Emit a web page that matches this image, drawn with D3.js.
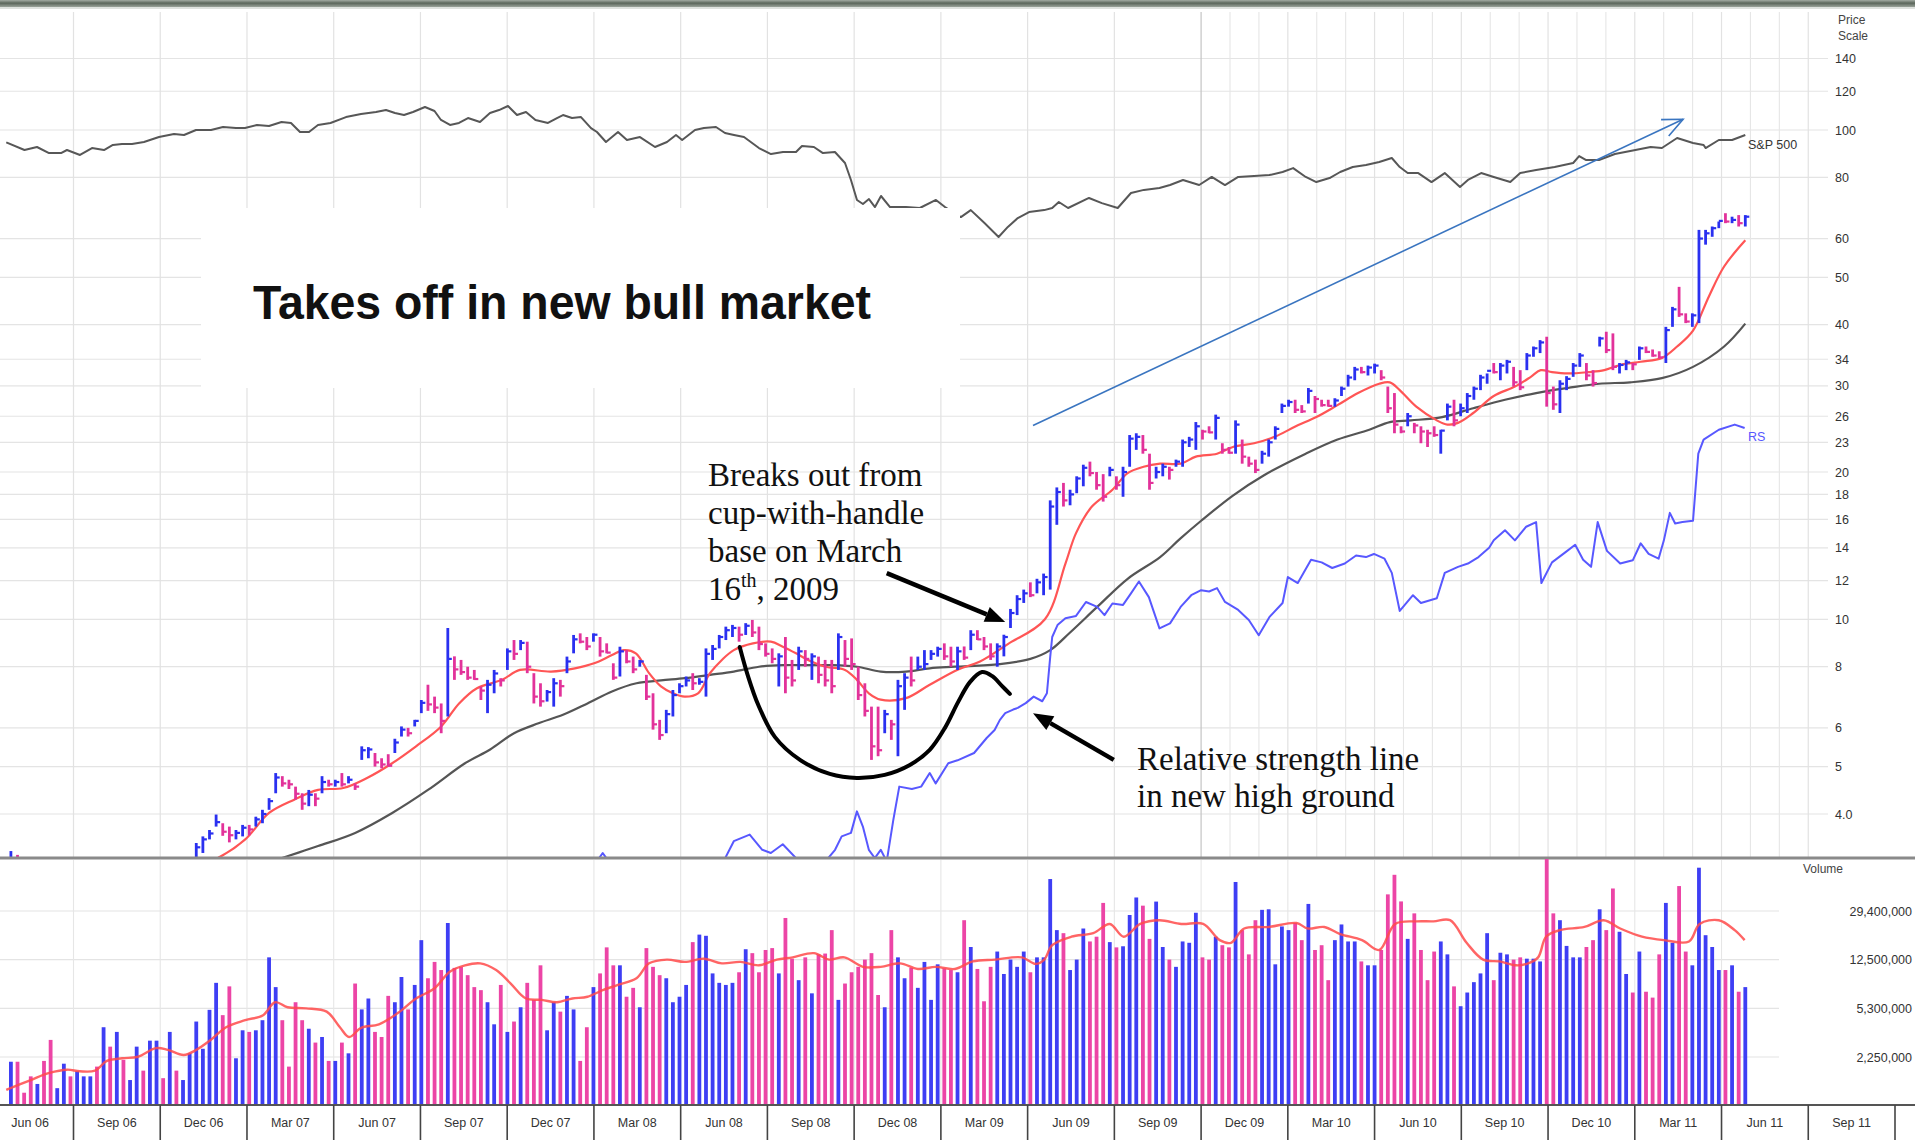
<!DOCTYPE html>
<html><head><meta charset="utf-8">
<script src="https://cdn.jsdelivr.net/npm/d3@7"></script>
<style>body{margin:0;background:#fff} svg{display:block}</style>
</head><body>
<svg id="chart" width="1915" height="1140"></svg>
<script>
// ---------------- DATA ----------------
const quarterLabels = ["Jun 06","Sep 06","Dec 06","Mar 07","Jun 07","Sep 07","Dec 07","Mar 08","Jun 08","Sep 08","Dec 08","Mar 09","Jun 09","Sep 09","Dec 09","Mar 10","Jun 10","Sep 10","Dec 10","Mar 11","Jun 11","Sep 11"];
const priceTicks = [140,120,100,80,60,50,40,34,30,26,23,20,18,16,14,12,10,8,6,5,4];
const priceTickLabels = ["140","120","100","80","60","50","40","34","30","26","23","20","18","16","14","12","10","8","6","5","4.0"];
const volTicks = [29400000,12500000,5300000,2250000];
const volTickLabels = ["29,400,000","12,500,000","5,300,000","2,250,000"];

// weekly bars (week 0 = mid-May 2006)
const priceHigh = [
3.36,3.3,3.1,3.0,2.95,3.0,2.95,2.85,2.9,2.95,
2.9,2.95,3.0,3.05,3.1,3.1,3.15,3.15,3.1,3.2,
3.2,3.2,3.22,3.2,3.22,3.2,3.2,3.25,3.49,3.6,
3.71,3.99,3.83,3.77,3.71,3.8,3.8,3.95,4.08,4.31,
4.85,4.78,4.7,4.55,4.41,4.48,4.41,4.78,4.7,4.7,
4.85,4.78,4.62,5.5,5.48,5.33,5.2,5.3,5.7,6.04,
6.0,6.23,6.84,7.35,6.95,6.73,9.6,8.4,8.26,8.0,
7.88,7.29,7.52,7.88,7.58,8.72,9.07,9.07,9.0,7.76,
7.4,7.17,7.58,7.52,8.39,9.29,9.36,9.2,9.36,9.2,
8.93,8.13,8.79,8.65,8.39,8.26,7.7,7.06,6.23,6.53,
7.17,7.4,7.64,7.76,7.58,8.72,8.86,9.29,9.66,9.74,
9.66,9.82,9.97,9.66,8.93,8.72,8.52,9.2,8.26,8.79,
8.65,8.52,8.39,8.26,8.26,9.36,9.07,9.14,8.0,7.4,
6.63,6.63,6.53,6.23,7.52,7.76,8.39,8.39,8.65,8.65,
8.79,8.93,8.79,8.79,8.8,9.5,9.5,9.2,8.93,8.93,
9.3,10.5,11.2,11.5,11.9,12.1,12.4,17.5,18.6,19.0,
18.4,19.6,20.7,21.0,20.0,19.8,20.5,19.6,20.5,23.8,
24.0,23.8,21.8,20.5,20.8,20.5,21.2,23.3,23.6,25.3,
24.4,24.8,26.2,22.9,22.5,25.5,23.3,21.5,21.2,22.1,
23.3,24.8,27.6,28.1,28.1,27.4,29.7,28.6,28.1,28.1,
28.3,29.9,31.6,32.8,32.8,33.0,33.3,32.3,29.9,29.0,
24.8,26.4,25.2,24.8,24.4,24.8,24.4,27.6,28.1,27.6,
29.0,29.9,31.6,31.8,33.4,33.4,33.9,32.8,32.3,35.0,
36.1,37.2,37.8,29.9,30.8,31.4,33.4,35.0,33.4,32.3,
37.8,38.7,38.4,33.4,33.9,33.4,36.1,36.1,35.6,35.3,
39.6,43.5,47.8,42.2,42.2,62.5,62.5,63.5,65.0,67.6,
66.5,67.0,67.0];
const priceLow = [
3.05,3.0,2.85,2.75,2.7,2.8,2.65,2.6,2.7,2.75,
2.7,2.8,2.8,2.85,2.85,2.9,2.9,2.95,2.95,3.0,
3.0,3.0,3.05,3.05,3.05,3.0,3.0,3.05,3.2,3.33,
3.55,3.77,3.61,3.5,3.55,3.6,3.62,3.77,3.83,4.08,
4.41,4.55,4.5,4.28,4.08,4.15,4.15,4.41,4.55,4.55,
4.55,4.62,4.48,5.16,5.2,5.0,4.96,5.0,5.33,5.76,
5.76,6.04,6.43,6.5,6.43,5.85,6.33,7.52,7.7,7.52,
7.52,6.84,6.43,7.06,7.29,7.88,8.26,8.65,7.76,6.73,
6.63,6.79,6.63,6.95,7.76,8.52,8.93,8.65,9.0,8.39,
8.52,7.52,7.64,8.13,7.76,8.0,6.84,5.95,5.67,5.85,
6.33,7.06,7.29,7.17,7.35,6.95,8.26,8.72,9.07,9.2,
9.0,9.29,9.2,8.65,8.39,8.13,7.29,7.06,7.29,7.88,
8.0,7.52,7.4,7.29,7.06,7.88,8.0,7.88,6.84,6.33,
5.16,5.25,5.85,5.67,5.25,6.53,7.29,7.88,7.88,8.26,
8.39,8.26,8.0,7.88,8.26,8.65,9.07,8.65,8.26,8.0,
8.4,9.6,10.2,10.8,11.1,11.3,11.2,11.5,15.6,17.0,
17.1,18.1,18.7,19.6,18.4,17.4,19.6,18.4,17.8,20.5,
22.2,21.8,18.4,19.4,19.6,19.3,20.5,20.5,22.5,22.2,
23.3,24.0,23.3,21.8,21.8,21.8,20.8,20.5,19.9,20.8,
21.5,23.3,26.4,27.2,26.4,26.4,27.6,26.4,27.2,27.2,
27.2,28.6,29.9,30.8,31.8,31.5,31.8,30.8,26.4,24.0,
24.0,24.8,24.0,22.9,22.5,23.6,21.8,25.5,24.8,26.0,
26.4,28.1,29.4,30.3,31.8,30.8,31.8,29.9,29.4,32.3,
34.4,35.0,27.2,26.8,26.4,29.4,31.3,32.8,30.8,29.9,
36.1,35.0,32.3,31.8,32.3,32.3,33.9,35.0,34.4,34.1,
33.4,39.6,41.5,40.3,39.6,40.3,58.3,60.5,63.0,64.5,
64.5,63.5,63.5];
const priceClose = [
3.2,3.05,2.9,2.8,2.9,2.85,2.7,2.75,2.85,2.8,
2.85,2.9,2.95,2.9,3.05,2.95,3.1,3.0,3.05,3.15,
3.05,3.15,3.2,3.1,3.15,3.05,3.1,3.2,3.42,3.55,
3.65,3.85,3.68,3.62,3.66,3.75,3.72,3.9,4.0,4.25,
4.75,4.62,4.6,4.4,4.2,4.38,4.3,4.65,4.6,4.65,
4.6,4.7,4.55,5.4,5.42,5.1,5.05,5.02,5.6,5.95,
5.85,6.2,6.75,6.7,6.6,6.2,8.3,7.9,7.8,7.6,
7.55,7.15,7.35,7.75,7.5,8.6,8.5,8.95,8.0,6.95,
6.8,7.1,7.4,7.3,8.2,9.1,9.0,8.8,9.3,8.6,
8.55,7.6,8.6,8.2,7.9,8.2,6.95,6.1,5.8,6.4,
7.0,7.3,7.5,7.4,7.45,8.5,8.7,9.2,9.5,9.6,
9.3,9.7,9.4,8.9,8.5,8.3,8.4,7.6,7.5,8.6,
8.3,8.4,7.7,7.5,7.3,9.2,8.3,8.1,7.0,6.5,
5.5,5.4,6.4,6.1,7.3,7.6,7.5,8.0,8.1,8.5,
8.7,8.4,8.2,8.6,8.35,9.3,9.1,8.8,8.4,8.8,
9.2,10.3,11.0,11.3,11.2,11.9,12.2,17.0,18.2,17.5,
18.0,19.4,20.4,19.9,18.8,17.8,20.2,18.8,20.0,23.4,
23.6,22.2,19.0,20.0,20.5,20.2,21.0,23.0,23.3,24.8,
24.2,24.1,25.8,22.2,21.9,25.0,21.5,20.8,20.2,21.8,
23.0,24.5,27.3,27.8,26.8,26.6,29.3,28.2,27.4,27.3,
28.0,29.6,31.2,32.4,32.0,32.7,33.0,31.2,27.0,25.0,
24.2,26.0,24.9,24.2,24.0,23.8,24.3,27.2,25.5,27.0,
28.6,29.6,31.2,32.2,32.0,33.0,33.6,30.5,29.8,34.6,
35.8,36.8,29.0,27.5,30.3,31.0,33.0,34.6,31.5,30.4,
37.5,35.5,32.8,33.1,33.5,33.2,35.8,35.2,34.6,34.3,
39.0,43.0,42.0,40.6,41.8,60.0,61.5,63.0,65.2,65.0,
65.5,64.5,66.5];
// weekly volume, millions of shares
const volumeM = [
2.07,2.07,1.2,1.6,1.4,2.1,3.04,1.3,2.0,1.6,
1.75,1.6,1.6,1.9,3.8,2.7,3.5,2.14,1.5,2.7,
1.77,3.0,3.0,1.55,3.5,1.77,1.5,2.4,4.2,2.6,
5.16,8.3,4.7,7.8,2.2,3.6,3.5,3.6,4.3,13.0,
7.7,4.3,1.9,5.9,4.3,3.7,2.9,3.2,2.1,2.1,
2.9,2.4,8.2,5.2,6.3,3.5,3.2,6.6,5.9,9.2,
5.2,8.0,17.6,9.0,12.0,10.4,23.8,10.8,11.0,9.5,
7.7,7.3,5.9,4.0,8.0,3.5,4.2,5.4,8.3,6.15,
11.3,3.6,5.9,5.0,6.6,5.2,2.1,3.8,7.7,9.8,
15.5,11.3,11.3,6.5,7.6,5.4,15.3,11.0,9.5,9.0,
5.9,6.5,8.0,17.0,19.4,19.0,9.8,8.3,8.0,8.3,
10.0,15.0,14.0,10.0,14.8,15.3,9.8,26.0,12.7,8.7,
13.0,6.9,13.7,13.9,21.0,6.15,8.2,10.0,11.0,12.5,
14.0,6.7,5.4,21.0,13.0,9.0,10.8,7.6,12.0,6.15,
11.5,10.7,10.4,10.0,25.0,15.6,10.6,6.0,11.0,14.4,
9.7,12.5,11.0,14.4,10.0,13.0,13.0,51.6,21.0,19.9,
10.4,12.5,21.6,17.2,18.7,33.9,17.0,15.5,15.8,27.4,
37.3,32.3,18.0,34.7,15.6,12.5,11.0,17.2,16.8,28.5,
13.0,12.5,18.7,16.1,15.5,49.0,21.0,13.7,25.0,30.0,
30.3,11.5,22.4,21.0,23.8,17.6,33.3,14.8,16.1,8.7,
17.6,23.2,17.2,17.2,12.1,11.3,11.3,14.8,39.4,55.6,
34.8,18.0,28.2,14.8,8.7,14.4,17.2,13.7,7.8,5.5,
7.0,8.4,9.8,19.9,8.7,14.1,13.7,12.5,13.0,12.7,
12.7,12.1,75.0,28.2,25.0,15.9,13.0,13.0,15.6,17.6,
30.3,21.0,43.7,20.4,9.7,7.0,14.4,7.1,6.4,13.7,
33.9,16.8,45.6,14.4,11.3,63.0,19.2,15.6,10.4,10.4,
11.3,7.1,7.7];

// [week, value] readings of the lines
const ma10 = [[0,2.95],[10,2.85],[20,3.0],[28,3.12],[31.6,3.27],[35.4,3.55],[39.0,4.02],[42.8,4.28],[46.4,4.48],[50.2,4.52],[53.8,4.74],[57.6,5.08],[61.2,5.5],[65.0,6.04],[67.7,6.73],[70.4,7.23],[74.2,7.52],[76.9,7.88],[81.6,7.82],[85.2,7.94],[88.1,8.13],[90.8,8.45],[92.6,8.65],[94.4,8.52],[96.4,7.76],[98.2,7.29],[100.0,7.06],[101.8,6.95],[103.8,7.06],[105.6,7.76],[107.4,8.26],[109.2,8.65],[112.1,8.93],[114.8,9.0],[116.6,8.79],[118.6,8.52],[120.4,8.26],[123.1,8.0],[126.0,7.88],[127.8,7.52],[129.6,7.06],[131.4,6.85],[135.2,6.9],[138.8,7.35],[143.1,7.9],[146.4,8.2],[150.6,8.9],[156.2,10.0],[159.3,13.0],[160.9,15.0],[163.3,17.0],[166.4,18.4],[168.7,19.9],[171.1,20.5],[173.6,20.8],[176.7,20.8],[179.0,21.5],[182.2,21.8],[184.6,22.5],[187.8,22.9],[190.9,23.6],[194.1,24.8],[197.2,25.9],[200.4,27.4],[203.5,29.0],[206.7,30.3],[208.3,30.5],[209.8,29.4],[212.3,27.2],[215.4,25.5],[217.0,25.0],[218.6,25.2],[220.9,26.4],[224.0,28.6],[227.2,29.9],[229.6,31.3],[231.1,32.3],[232.8,32.0],[235.2,31.8],[238.3,32.0],[240.7,32.3],[243.1,33.1],[246.2,33.6],[249.4,34.2],[251.7,36.1],[254.1,38.9],[256.5,45.7],[258.8,52.6],[262.0,59.5]];
const ma40 = [[0,2.7],[20,2.85],[35,3.05],[40.9,3.25],[46.4,3.44],[52.0,3.66],[57.6,4.02],[63.0,4.48],[68.6,5.08],[72.4,5.42],[76.0,5.85],[79.7,6.13],[83.4,6.38],[87.1,6.73],[90.8,7.12],[94.5,7.4],[98.2,7.5],[101.8,7.58],[105.6,7.7],[109.2,7.82],[113.0,8.0],[116.6,8.06],[120.4,8.06],[124.0,8.06],[127.8,8.0],[131.4,7.82],[135.2,7.82],[138.8,7.94],[142.6,8.0],[149.4,8.1],[154.0,8.3],[157.0,8.65],[160.0,9.4],[164.1,10.6],[168.7,12.1],[173.6,13.4],[176.6,14.6],[179.8,15.9],[184.6,17.9],[189.3,19.7],[195.6,21.8],[200.4,23.3],[205.2,24.4],[208.3,25.3],[211.5,25.5],[216.2,25.9],[220.9,27.0],[225.7,28.1],[230.4,29.0],[235.2,29.7],[239.9,30.3],[244.6,30.5],[249.4,31.1],[254.1,32.8],[258.8,36.1],[262.0,40.2]];
const sp500 = [[-0.7,1240],[2.05,1181],[3.94,1204],[5.76,1158],[7.57,1158],[8.47,1181],[10.44,1144],[12.25,1196],[14.06,1181],[15.41,1220],[16.78,1227],[18.29,1227],[20.1,1243],[22.37,1283],[24.64,1308],[26.15,1300],[27.96,1342],[30.23,1342],[32.04,1368],[34.0,1359],[35.36,1359],[37.17,1386],[38.99,1377],[40.88,1413],[42.31,1404],[43.67,1325],[45.03,1325],[46.39,1386],[48.28,1404],[50.62,1458],[52.89,1486],[55.15,1506],[56.66,1525],[58.02,1496],[59.38,1477],[60.74,1506],[62.55,1555],[63.99,1516],[64.97,1431],[66.33,1386],[67.69,1404],[69.05,1449],[70.86,1413],[72.37,1496],[73.73,1525],[75.09,1565],[76.45,1477],[77.81,1506],[79.24,1431],[81.13,1404],[82.49,1449],[83.4,1477],[84.76,1449],[86.12,1458],[87.63,1359],[88.53,1325],[89.89,1243],[91.71,1325],[93.06,1259],[95.03,1283],[97.3,1204],[99.11,1243],[100.47,1300],[101.4,1259],[103.34,1342],[104.69,1359],[106.51,1368],[107.87,1317],[109.23,1300],[110.74,1283],[113.0,1196],[114.82,1151],[116.63,1166],[118.6,1166],[119.5,1212],[121.3,1204],[122.67,1158],[124.48,1166],[126.0,1087],[126.9,975],[127.81,858],[128.71,836],[129.62,863],[130.53,820],[131.44,880],[132.8,820],[135.2,820],[137.3,815],[139.74,858],[141.1,820],[143.5,769],[145.0,804],[147.07,740],[149.2,677],[150.6,722],[152.1,764],[153.8,794],[156.1,804],[157.3,815],[158.3,847],[159.7,815],[162.86,869],[164.8,841],[167.2,815],[169.2,897],[171.15,915],[173.5,926],[175.1,944],[177.06,975],[179.5,944],[181.4,994],[183.4,944],[185.4,994],[187.8,1000],[190.1,1006],[192.1,1026],[193.7,1052],[195.6,994],[197.2,962],[199.2,987],[200.8,1026],[202.7,1059],[204.7,1073],[206.7,1094],[208.6,1122],[209.8,1059],[211.0,1019],[212.6,1019],[214.6,962],[216.6,1019],[218.9,932],[220.1,975],[222.1,1019],[224.0,994],[226.5,962],[228.0,1019],[230.4,1039],[233.2,1059],[236.0,1087],[236.9,1136],[237.9,1108],[239.9,1108],[242.3,1151],[245.4,1181],[247.7,1204],[249.4,1196],[251.7,1275],[254.1,1235],[255.7,1220],[256.0,1196],[258.0,1259],[260.0,1259],[262.0,1300]];
const rsLine = [[80,3.0],[83,3.0],[88.5,3.2],[89.4,3.33],[90.3,3.2],[95,3.0],[104.1,3.1],[107.9,3.25],[109.2,3.52],[111.6,3.63],[113.5,3.38],[114.8,3.33],[116.6,3.47],[118.6,3.25],[119.9,3.15],[122.2,3.1],[124.5,3.38],[125.5,3.6],[126.9,3.66],[127.8,4.05],[128.7,3.77],[129.6,3.38],[130.5,3.25],[131.4,3.38],[132.3,3.2],[133.3,3.89],[134.2,4.55],[136.1,4.5],[137.5,4.55],[138.8,4.85],[139.7,4.62],[141.6,5.08],[143.0,5.15],[145.5,5.33],[147.4,5.72],[148.6,5.94],[149.4,6.23],[150.2,6.43],[151.4,6.54],[152.1,6.59],[153.3,6.74],[154.5,6.95],[155.8,6.8],[156.5,7.06],[157.0,8.38],[157.3,9.2],[158.1,9.73],[159.3,10.05],[160.9,10.16],[162.4,10.85],[164.1,10.6],[165.2,10.2],[166.4,10.77],[168.0,10.7],[169.2,11.3],[170.4,11.95],[171.9,11.1],[173.5,9.58],[175.1,9.81],[176.7,10.6],[178.3,11.2],[179.8,11.47],[181.0,11.4],[182.2,11.58],[183.4,10.85],[185.4,10.45],[187.0,9.97],[188.5,9.28],[190.1,10.1],[192.1,10.8],[192.9,12.2],[194.4,11.86],[196.4,13.24],[198.0,13.07],[199.6,12.73],[201.5,13.0],[203.2,13.5],[204.7,13.4],[205.9,13.6],[207.5,13.3],[208.6,12.44],[209.8,10.4],[211.8,11.2],[213.0,10.8],[215.4,11.04],[216.6,12.44],[218.6,12.8],[220.1,13.0],[221.7,13.4],[223.3,14.0],[224.0,14.5],[225.7,15.2],[227.2,14.5],[228.9,15.46],[230.4,15.8],[231.2,11.86],[232.8,13.07],[234.8,13.7],[236.3,14.2],[237.5,13.24],[238.7,12.8],[239.7,15.8],[241.1,13.8],[243.1,13.0],[245.0,13.2],[246.2,14.3],[247.4,13.6],[248.9,13.3],[249.7,14.5],[250.6,16.5],[251.4,15.7],[252.5,15.8],[254.1,15.9],[254.9,21.8],[255.7,23.3],[258.0,24.4],[260.4,25.0],[261.9,24.6]];
const volMA = [[-0.7,1.26],[3.0,1.5],[5.8,1.7],[8.5,1.8],[10.4,1.75],[12.7,1.77],[14.5,2.1],[16.8,2.2],[19.2,2.26],[21.9,2.63],[23.7,2.55],[26.1,2.33],[28.0,2.55],[30.2,3.04],[32.5,3.8],[35.4,4.3],[38.1,4.7],[39.9,5.9],[41.8,5.4],[44.6,5.3],[47.7,5.0],[49.7,3.8],[51.1,3.2],[52.9,3.76],[55.6,4.0],[58.5,4.9],[61.2,6.3],[64.0,7.55],[66.3,10.1],[68.6,11.3],[70.9,11.7],[73.3,10.4],[75.5,8.2],[77.8,6.3],[80.2,6.15],[82.5,5.9],[84.8,6.3],[87.1,6.5],[89.4,7.3],[91.7,8.0],[94.5,9.0],[96.4,11.7],[99.1,12.5],[101.8,12.0],[104.7,12.7],[107.4,11.7],[110.2,12.0],[113.0,11.3],[115.7,12.5],[118.1,13.0],[121.3,14.0],[123.6,12.5],[125.9,13.0],[128.7,11.0],[131.4,11.0],[134.3,11.7],[137.0,10.6],[139.7,11.0],[142.6,10.6],[145.3,12.1],[148.7,12.5],[152.7,13.0],[154.8,11.6],[156.1,12.5],[157.3,16.1],[160.2,18.7],[163.5,19.9],[166.0,23.4],[168.1,18.7],[170.6,23.4],[173.5,25.0],[176.8,23.4],[180.1,23.4],[182.6,17.6],[184.3,16.8],[186.3,21.6],[190.0,22.2],[194.2,23.8],[195.9,21.6],[198.4,22.2],[200.8,19.6],[204.1,17.6],[206.7,14.8],[209.1,23.4],[212.4,24.5],[214.9,24.5],[217.4,25.0],[219.9,16.8],[222.4,12.5],[224.9,12.1],[227.4,11.3],[229.0,11.6],[230.7,13.0],[231.9,18.7],[234.0,21.0],[237.7,22.2],[240.6,25.0],[243.1,21.6],[246.4,18.7],[249.7,17.6],[253.5,17.2],[255.1,23.4],[258.0,25.0],[260.4,21.0],[261.9,17.6]];

// annotation anchors [week, price]
const cupPath = [[110.1,8.78],[111.3,7.69],[112.9,6.68],[115.4,5.75],[119.2,5.16],[123.7,4.83],[127.8,4.74],[132.0,4.81],[135.8,5.04],[138.8,5.41],[141.1,6.0],[143.1,6.78],[144.9,7.45],[146.7,7.8],[148.2,7.66],[149.7,7.31],[150.9,7.04]];
const breakoutArrow = [[132.3,12.43],[150.2,9.87]];
const rsArrow = [[166.6,5.16],[154.4,6.43]];
const trendArrow = [[154.4,24.9],[252.6,105.2]];

// ---------------- CHART ----------------
const svg = d3.select("#chart");
const W = 1915, H = 1140;
const VBOT = 1105;
const xw = d3.scaleLinear().domain([0, 262]).range([10.9, 1745.3]);
const xq = d3.scaleLinear().domain([0, 21]).range([73.5, 1895]);
const yP = d3.scaleLog().domain([10, 100]).range([619.3, 130]);
const yS = d3.scaleLog().domain([680, 1565]).range([236.3, 106]);
const yV = d3.scaleLog().domain([2250000, 29400000]).range([1057, 911]);

const BLUE = "#2a30f0", PINK = "#e2329a", VBLUE = "#3e3ef4", VPINK = "#ec45a6";
const sans = "'Liberation Sans', Arial, sans-serif";
const serif = "'Liberation Serif', 'Times New Roman', serif";

const defs = svg.append("defs");
defs.append("clipPath").attr("id","clipP").append("rect").attr("x",0).attr("y",9).attr("width",1830).attr("height",848);
defs.append("clipPath").attr("id","clipV").append("rect").attr("x",0).attr("y",859).attr("width",W).attr("height",VBOT-859);
const grad = defs.append("linearGradient").attr("id","topg").attr("x1",0).attr("y1",0).attr("x2",0).attr("y2",1);
grad.append("stop").attr("offset","0%").attr("stop-color","#a3aba3");
grad.append("stop").attr("offset","45%").attr("stop-color","#5b665b");
grad.append("stop").attr("offset","100%").attr("stop-color","#9aa29a");

svg.append("rect").attr("width",W).attr("height",H).attr("fill","#fff");
svg.append("rect").attr("x",0).attr("y",0).attr("width",W).attr("height",7).attr("fill","url(#topg)");
svg.append("line").attr("x1",0).attr("x2",W).attr("y1",8).attr("y2",8).attr("stroke","#d5d9d5").attr("stroke-width",1.5);

// grid - price panel
const gP = svg.append("g");
priceTicks.forEach(t => {
  gP.append("line").attr("x1",0).attr("x2",1828).attr("y1",yP(t)).attr("y2",yP(t))
    .attr("stroke","#e4e4e4").attr("stroke-width",1.2);
});
const monthly = d3.range(1, 22).filter(m => m % 3 !== 0).map(m => 13 + m/3);
d3.range(0, 21).forEach(q => {
  gP.append("line").attr("x1",xq(q)).attr("x2",xq(q)).attr("y1",12).attr("y2",857)
    .attr("stroke", q === 13 ? "#c4c4c4" : "#e2e2e2").attr("stroke-width",1.2);
});
monthly.forEach(q => {
  gP.append("line").attr("x1",xq(q)).attr("x2",xq(q)).attr("y1",12).attr("y2",857)
    .attr("stroke","#e6e6e6").attr("stroke-width",1.1);
});
// grid - volume panel
volTicks.forEach(t => {
  gP.append("line").attr("x1",0).attr("x2",1779).attr("y1",yV(t)).attr("y2",yV(t))
    .attr("stroke","#e4e4e4").attr("stroke-width",1.2);
});
d3.range(0, 20).forEach(q => {
  gP.append("line").attr("x1",xq(q)).attr("x2",xq(q)).attr("y1",860).attr("y2",VBOT)
    .attr("stroke","#e6e6e6").attr("stroke-width",1.1);
});

// S&P 500 line
const lineSP = d3.line().x(d => xw(d[0])).y(d => yS(d[1]));
svg.append("path").datum(sp500).attr("d", lineSP).attr("fill","none")
  .attr("stroke","#575757").attr("stroke-width",2).attr("stroke-linejoin","round");
svg.append("text").attr("x",1748).attr("y",yS(sp500[sp500.length-1][1])+14).text("S&P 500")
  .attr("font-family",sans).attr("font-size",12.5).attr("fill","#333");

// white title box (covers the chart behind it)
svg.append("rect").attr("x",201).attr("y",208).attr("width",759).attr("height",180).attr("fill","#fff");
svg.append("text").attr("x",253).attr("y",319).text("Takes off in new bull market")
  .attr("font-family",sans).attr("font-weight","bold").attr("font-size",48)
  .attr("textLength",618).attr("lengthAdjust","spacingAndGlyphs").attr("fill","#111");

// price panel content
const gPrice = svg.append("g").attr("clip-path","url(#clipP)");
const curve = d3.line().x(d => xw(d[0])).y(d => yP(d[1])).curve(d3.curveCatmullRom.alpha(0.5));
gPrice.append("path").datum(ma40).attr("d",curve).attr("fill","none").attr("stroke","#555").attr("stroke-width",2.2);
gPrice.append("path").datum(ma10).attr("d",curve).attr("fill","none").attr("stroke","#ff5555").attr("stroke-width",2.2);
const lineRS = d3.line().x(d => xw(d[0])).y(d => yP(d[1]));
gPrice.append("path").datum(rsLine).attr("d",lineRS).attr("fill","none").attr("stroke","#5858ff").attr("stroke-width",2).attr("stroke-linejoin","round");

const isUp = i => i === 0 || priceClose[i] >= priceClose[i-1];
priceHigh.forEach((h, i) => {
  const c = isUp(i) ? BLUE : PINK;
  const x = xw(i);
  gPrice.append("line").attr("x1",x).attr("x2",x).attr("y1",yP(h)).attr("y2",yP(priceLow[i]))
    .attr("stroke",c).attr("stroke-width",2.8);
  gPrice.append("line").attr("x1",x).attr("x2",x+4).attr("y1",yP(priceClose[i])).attr("y2",yP(priceClose[i]))
    .attr("stroke",c).attr("stroke-width",2.2);
});
svg.append("text").attr("x",1748).attr("y",yP(rsLine[rsLine.length-1][1])+13).text("RS")
  .attr("font-family",sans).attr("font-size",12.5).attr("fill","#5858ff");

// blue trend arrow
const ta0 = [xw(trendArrow[0][0]), yP(trendArrow[0][1])], ta1 = [xw(trendArrow[1][0]), yP(trendArrow[1][1])];
svg.append("line").attr("x1",ta0[0]).attr("y1",ta0[1]).attr("x2",ta1[0]).attr("y2",ta1[1])
  .attr("stroke","#3a75c0").attr("stroke-width",1.6);
{
  const ang = Math.atan2(ta1[1]-ta0[1], ta1[0]-ta0[0]);
  const L = 22, a = 0.42;
  const p1 = [ta1[0]-L*Math.cos(ang-a), ta1[1]-L*Math.sin(ang-a)];
  const p2 = [ta1[0]-L*Math.cos(ang+a), ta1[1]-L*Math.sin(ang+a)];
  svg.append("path").attr("d",`M${p1[0]},${p1[1]}L${ta1[0]},${ta1[1]}L${p2[0]},${p2[1]}`)
    .attr("fill","none").attr("stroke","#3a75c0").attr("stroke-width",1.6);
}

// cup-with-handle curve
svg.append("path").datum(cupPath).attr("d",curve).attr("fill","none").attr("stroke","#000")
  .attr("stroke-width",4).attr("stroke-linecap","round");

function blackArrow(pts) {
  const s = [xw(pts[0][0]), yP(pts[0][1])], e = [xw(pts[1][0]), yP(pts[1][1])];
  const ang = Math.atan2(e[1]-s[1], e[0]-s[0]);
  const L = 20, hw = 8;
  const b = [e[0]-L*Math.cos(ang), e[1]-L*Math.sin(ang)];
  svg.append("line").attr("x1",s[0]).attr("y1",s[1]).attr("x2",b[0]).attr("y2",b[1])
    .attr("stroke","#000").attr("stroke-width",4.5);
  const l = [b[0]+hw*Math.sin(ang), b[1]-hw*Math.cos(ang)], r = [b[0]-hw*Math.sin(ang), b[1]+hw*Math.cos(ang)];
  svg.append("path").attr("d",`M${e[0]},${e[1]}L${l[0]},${l[1]}L${r[0]},${r[1]}Z`).attr("fill","#000");
}
blackArrow(breakoutArrow);
blackArrow(rsArrow);

// annotation texts
const ann1 = ["Breaks out from","cup-with-handle","base on March"];
ann1.forEach((t,i) => svg.append("text").attr("x",708).attr("y",486+i*38).text(t)
  .attr("font-family",serif).attr("font-size",33).attr("fill","#111"));
const t4 = svg.append("text").attr("x",708).attr("y",600).attr("font-family",serif).attr("font-size",33).attr("fill","#111");
t4.append("tspan").text("16");
t4.append("tspan").text("th").attr("font-size",20).attr("dy",-13);
t4.append("tspan").text(", 2009").attr("dy",13);
["Relative strength line","in new high ground"].forEach((t,i) => svg.append("text").attr("x",1137).attr("y",770+i*37).text(t)
  .attr("font-family",serif).attr("font-size",33).attr("fill","#111"));

// panel separator
svg.append("line").attr("x1",0).attr("x2",W).attr("y1",858).attr("y2",858).attr("stroke","#8a8a8a").attr("stroke-width",2.8);

// volume panel
const gVol = svg.append("g").attr("clip-path","url(#clipV)");
volumeM.forEach((v, i) => {
  const y = yV(v*1e6);
  gVol.append("rect").attr("x",xw(i)-1.9).attr("width",3.8).attr("y",y).attr("height",Math.max(0,VBOT-y))
    .attr("fill", isUp(i) ? VBLUE : VPINK);
});
const lineVMA = d3.line().x(d => xw(d[0])).y(d => yV(d[1]*1e6)).curve(d3.curveCatmullRom.alpha(0.5));
gVol.append("path").datum(volMA).attr("d",lineVMA).attr("fill","none").attr("stroke","#ff4a4a")
  .attr("stroke-opacity",0.85).attr("stroke-width",2.4);

// bottom axis
svg.append("line").attr("x1",0).attr("x2",W).attr("y1",VBOT).attr("y2",VBOT).attr("stroke","#555").attr("stroke-width",1.8);
d3.range(0, 22).forEach(q => {
  svg.append("line").attr("x1",xq(q)).attr("x2",xq(q)).attr("y1",VBOT).attr("y2",H)
    .attr("stroke","#444").attr("stroke-width",1.6);
});
quarterLabels.forEach((lab, k) => {
  svg.append("text").attr("x",xq(k-0.5)).attr("y",1127).attr("text-anchor","middle").text(lab)
    .attr("font-family",sans).attr("font-size",12.5).attr("fill","#333");
});

// right-side labels
svg.append("text").attr("x",1838).attr("y",24).text("Price").attr("font-family",sans).attr("font-size",12).attr("fill","#444");
svg.append("text").attr("x",1838).attr("y",40).text("Scale").attr("font-family",sans).attr("font-size",12).attr("fill","#444");
priceTicks.forEach((t,i) => {
  svg.append("text").attr("x",1835).attr("y",yP(t)+4.5).text(priceTickLabels[i])
    .attr("font-family",sans).attr("font-size",12.5).attr("fill","#333");
});
svg.append("text").attr("x",1823).attr("y",873).attr("text-anchor","middle").text("Volume")
  .attr("font-family",sans).attr("font-size",12).attr("fill","#444");
volTicks.forEach((t,i) => {
  svg.append("text").attr("x",1912).attr("y",yV(t)+4.5).attr("text-anchor","end").text(volTickLabels[i])
    .attr("font-family",sans).attr("font-size",12.5).attr("fill","#333");
});
</script>
</body></html>
